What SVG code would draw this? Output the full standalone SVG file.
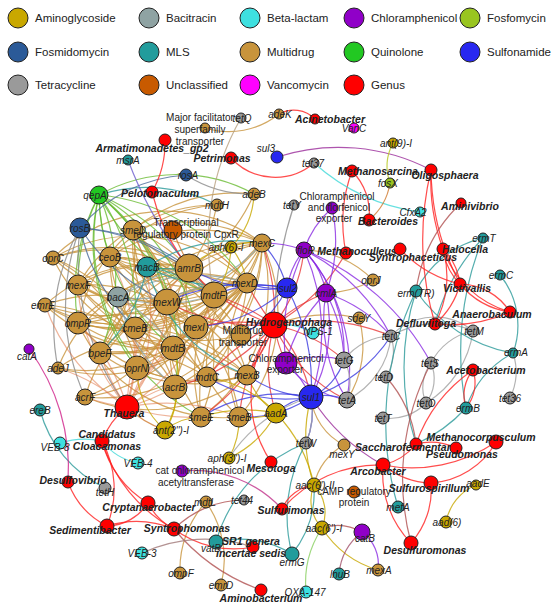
<svg xmlns="http://www.w3.org/2000/svg" width="551" height="608" viewBox="0 0 551 608">
<style>
.ag{fill:#C9A800}.bc{fill:#8FA3A3}.bl{fill:#3EE0E0}.ch{fill:#9000C8}.ff{fill:#99C520}.fm{fill:#2B5A98}.ml{fill:#229C9C}.md{fill:#C8943C}.qn{fill:#22C822}.su{fill:#2828F0}.tc{fill:#9A9A9A}.un{fill:#C85A00}.vc{fill:#FF00FF}.gn{fill:#FF0000}
circle{stroke:#222;stroke-width:1}
text{font-family:"Liberation Sans",Arial,sans-serif;fill:#222}
.l{font-size:10px;font-style:italic;text-anchor:middle}
.g{font-size:10.5px;font-style:italic;font-weight:bold;text-anchor:middle}
.d{font-size:10px;text-anchor:middle}
.lg{font-size:11.5px}
#edges path{fill:none;stroke-width:1.2;opacity:.8}
.emd{stroke:#C8943C}.eq{stroke:#6ABB33}.ebl{stroke:#4A6A9A}.egy{stroke:#8A8A8A}.eth{stroke:#E07040;opacity:.65}.ehy{stroke:#E83838}.ech{stroke:#8A2BE2}.esu{stroke:#3A3AE0}.eag{stroke:#C8A800}.etc{stroke:#A0A0A0}.eml{stroke:#2A9A9A}.ered{stroke:#FF2020}.ebc{stroke:#8FA3A3}.ecy{stroke:#40D8D8}.ebr{stroke:#B05050}.emg{stroke:#D0208A}.eor{stroke:#D07A30}.ett{stroke:#B8A080}.epu{stroke:#9A2A9A}.eyg{stroke:#B8C820}
</style>
<g id="legend">
<circle class="ag" cx="18" cy="18" r="10"/><text class="lg" x="35" y="22">Aminoglycoside</text>
<circle class="bc" cx="149" cy="18" r="10"/><text class="lg" x="166" y="22">Bacitracin</text>
<circle class="bl" cx="250" cy="18" r="10"/><text class="lg" x="267" y="22">Beta-lactam</text>
<circle class="ch" cx="354" cy="18" r="10"/><text class="lg" x="371" y="22">Chloramphenicol</text>
<circle class="ff" cx="470" cy="18" r="10"/><text class="lg" x="487" y="22">Fosfomycin</text>
<circle class="fm" cx="18" cy="52" r="10"/><text class="lg" x="35" y="56">Fosmidomycin</text>
<circle class="ml" cx="149" cy="52" r="10"/><text class="lg" x="166" y="56">MLS</text>
<circle class="md" cx="250" cy="52" r="10"/><text class="lg" x="267" y="56">Multidrug</text>
<circle class="qn" cx="354" cy="52" r="10"/><text class="lg" x="371" y="56">Quinolone</text>
<circle class="su" cx="470" cy="52" r="10"/><text class="lg" x="487" y="56">Sulfonamide</text>
<circle class="tc" cx="18" cy="85" r="10"/><text class="lg" x="35" y="89">Tetracycline</text>
<circle class="un" cx="149" cy="85" r="10"/><text class="lg" x="166" y="89">Unclassified</text>
<circle class="vc" cx="250" cy="85" r="10"/><text class="lg" x="267" y="89">Vancomycin</text>
<circle class="gn" cx="354" cy="85" r="10"/><text class="lg" x="371" y="89">Genus</text>
</g>
<g id="edges">
<g class="emd">
<path d="M133 230A160 160 0 0 1 189 268"/><path d="M133 230A160 160 0 0 0 214 295"/><path d="M133 230A160 160 0 0 1 167 302"/><path d="M133 230A160 160 0 0 0 173 348"/><path d="M133 230A160 160 0 0 1 175 387"/><path d="M133 230A160 160 0 0 0 247 375"/><path d="M133 230A160 160 0 0 1 262 243"/><path d="M133 230A160 160 0 0 0 247 283"/><path d="M133 230A160 160 0 0 0 78 323"/><path d="M133 230A160 160 0 0 1 100 353"/>
<path d="M110 257A160 160 0 0 0 189 268"/><path d="M110 257A160 160 0 0 1 214 295"/><path d="M110 257A160 160 0 0 0 196 327"/><path d="M110 257A160 160 0 0 1 167 302"/><path d="M110 257A160 160 0 0 0 135 328"/><path d="M110 257A160 160 0 0 1 173 348"/><path d="M110 257A160 160 0 0 0 247 283"/><path d="M110 257A160 160 0 0 1 247 375"/><path d="M110 257A160 160 0 0 0 175 387"/>
<path d="M53 258A160 160 0 0 1 189 268"/><path d="M53 258A160 160 0 0 0 167 302"/><path d="M53 258A160 160 0 0 1 135 328"/><path d="M53 258A160 160 0 0 0 173 348"/><path d="M53 258A160 160 0 0 1 137 368"/><path d="M53 258A160 160 0 0 1 214 295"/>
<path d="M78 285A160 160 0 0 1 189 268"/><path d="M78 285A160 160 0 0 0 214 295"/><path d="M78 285A160 160 0 0 1 196 327"/><path d="M78 285A160 160 0 0 0 173 348"/><path d="M78 285A160 160 0 0 1 175 387"/><path d="M78 285A160 160 0 0 0 247 283"/><path d="M78 285A160 160 0 0 1 262 243"/>
<path d="M45 305A160 160 0 0 1 189 268"/><path d="M45 305A160 160 0 0 0 167 302"/><path d="M45 305A160 160 0 0 1 196 327"/><path d="M45 305A160 160 0 0 0 173 348"/><path d="M45 305A160 160 0 0 1 175 387"/><path d="M45 305A160 160 0 0 0 214 295"/>
<path d="M167 302A160 160 0 0 1 247 283"/><path d="M167 302A160 160 0 0 0 262 243"/><path d="M167 302A160 160 0 0 1 247 375"/><path d="M167 302A160 160 0 0 0 201 417"/><path d="M167 302A160 160 0 0 1 239 417"/><path d="M167 302A160 160 0 0 0 207 377"/>
<path d="M189 268A160 160 0 0 1 78 323"/><path d="M189 268A160 160 0 0 0 100 353"/><path d="M189 268A160 160 0 0 1 137 368"/><path d="M189 268A160 160 0 0 0 175 387"/><path d="M189 268A160 160 0 0 1 201 417"/><path d="M189 268A160 160 0 0 0 239 417"/><path d="M189 268A160 160 0 0 1 85 397"/><path d="M189 268A160 160 0 0 0 58 368"/>
<path d="M214 295A160 160 0 0 1 78 323"/><path d="M214 295A160 160 0 0 0 100 353"/><path d="M214 295A160 160 0 0 1 137 368"/><path d="M214 295A160 160 0 0 0 201 417"/><path d="M214 295A160 160 0 0 1 85 397"/>
<path d="M196 327A160 160 0 0 0 78 323"/><path d="M196 327A160 160 0 0 1 100 353"/><path d="M196 327A160 160 0 0 0 262 243"/><path d="M196 327A160 160 0 0 1 58 368"/>
<path d="M78 323A160 160 0 0 0 173 348"/><path d="M78 323A160 160 0 0 1 247 283"/><path d="M78 323A160 160 0 0 0 262 243"/><path d="M78 323A160 160 0 0 1 207 377"/><path d="M78 323A160 160 0 0 0 247 375"/>
<path d="M135 328A160 160 0 0 1 262 243"/><path d="M135 328A160 160 0 0 0 247 283"/><path d="M135 328A160 160 0 0 1 247 375"/>
<path d="M173 348A160 160 0 0 0 262 243"/><path d="M173 348A160 160 0 0 1 247 283"/>
<path d="M100 353A160 160 0 0 0 247 283"/><path d="M100 353A160 160 0 0 1 262 243"/><path d="M100 353A160 160 0 0 0 247 375"/><path d="M100 353A160 160 0 0 1 207 377"/>
<path d="M137 368A160 160 0 0 0 247 283"/><path d="M137 368A160 160 0 0 1 262 243"/><path d="M137 368A160 160 0 0 0 247 375"/>
<path d="M175 387A160 160 0 0 1 247 283"/><path d="M175 387A160 160 0 0 0 262 243"/>
<path d="M207 377A160 160 0 0 1 262 243"/><path d="M207 377A160 160 0 0 0 247 283"/>
<path d="M201 417A160 160 0 0 1 247 283"/><path d="M201 417A160 160 0 0 0 262 243"/>
<path d="M239 417A160 160 0 0 1 247 283"/><path d="M239 417A160 160 0 0 0 262 243"/><path d="M239 417A160 160 0 0 1 78 323"/>
<path d="M58 368A160 160 0 0 0 247 283"/><path d="M85 397A160 160 0 0 1 247 283"/><path d="M85 397A160 160 0 0 0 262 243"/>
<path d="M241 335A160 160 0 0 1 133 230"/><path d="M241 335A160 160 0 0 0 110 257"/><path d="M241 335A160 160 0 0 1 78 285"/>
<path d="M254 194A160 160 0 0 0 133 230"/><path d="M254 194A160 160 0 0 1 189 268"/>
<path d="M217 205A160 160 0 0 0 110 257"/><path d="M217 205A160 160 0 0 1 189 268"/><path d="M217 205A160 160 0 0 0 78 285"/>
<path d="M58 368A160 160 0 0 1 247 375"/><path d="M85 397A160 160 0 0 0 247 375"/><path d="M53 258A160 160 0 0 1 247 283"/><path d="M45 305A160 160 0 0 0 247 283"/><path d="M53 258A160 160 0 0 1 262 243"/>
<path d="M205 128A80 80 0 0 0 279 114"/>
<path d="M359 318A100 100 0 0 1 347 400"/><path d="M274 325A150 150 0 0 1 359 318"/>
<path d="M373 280A100 100 0 0 0 304 250"/><path d="M373 280A100 100 0 0 1 326 293"/>
<path d="M344 445A60 60 0 0 1 311 397"/><path d="M344 445A60 60 0 0 0 314 485"/>
<path d="M206 502A100 100 0 0 1 221 585"/><path d="M206 502A100 100 0 0 0 180 573"/>
</g>
<g class="eq">
<path d="M99 195A200 200 0 0 1 133 230"/><path d="M99 195A200 200 0 0 0 110 257"/><path d="M99 195A200 200 0 0 0 78 285"/><path d="M99 195A200 200 0 0 1 167 302"/><path d="M99 195A200 200 0 0 1 189 268"/><path d="M99 195A200 200 0 0 0 78 323"/><path d="M99 195A200 200 0 0 1 135 328"/><path d="M99 195A200 200 0 0 0 173 348"/><path d="M99 195A200 200 0 0 1 100 353"/><path d="M99 195A200 200 0 0 0 137 368"/><path d="M99 195A200 200 0 0 1 175 387"/><path d="M99 195A200 200 0 0 1 247 283"/><path d="M99 195A200 200 0 0 0 214 295"/><path d="M99 195A200 200 0 0 1 196 327"/><path d="M99 195A200 200 0 0 0 201 417"/><path d="M99 195A160 160 0 0 1 254 194"/>
</g>
<g class="eml"><path d="M99 195A150 150 0 0 1 217 205"/></g>
<g class="ebl">
<path d="M80 228A150 150 0 0 1 186 175"/><path d="M80 228A200 200 0 0 1 189 268"/><path d="M80 228A200 200 0 0 0 167 302"/><path d="M80 228A200 200 0 0 1 214 295"/><path d="M80 228A200 200 0 0 0 135 328"/>
</g>
<g class="egy">
<path d="M80 228A200 200 0 0 0 58 368"/><path d="M80 228A220 220 0 0 0 85 397"/><path d="M80 228A250 250 0 0 0 127 407"/><path d="M186 175A120 120 0 0 0 254 194"/><path d="M294 205A400 400 0 0 0 274 325"/>
</g>
<g style="stroke:#6A5ACD"><path d="M128 160A400 400 0 0 0 189 268"/></g>
<g class="ered">
<path d="M165 140A100 100 0 0 1 152 192"/><path d="M152 192A200 200 0 0 0 189 268"/>
</g>
<g class="ebc">
<path d="M118 297A160 160 0 0 1 189 268"/><path d="M118 297A160 160 0 0 0 214 295"/><path d="M118 297A160 160 0 0 1 173 348"/><path d="M118 297A160 160 0 0 0 175 387"/><path d="M118 297A160 160 0 0 1 247 283"/><path d="M118 297A160 160 0 0 0 262 243"/>
</g>
<g class="eml">
<path d="M147 267A160 160 0 0 0 189 268"/><path d="M147 267A160 160 0 0 1 214 295"/><path d="M147 267A160 160 0 0 0 247 283"/><path d="M147 267A160 160 0 0 1 262 243"/><path d="M147 267A160 160 0 0 0 247 375"/><path d="M147 267A160 160 0 0 1 100 353"/>
</g>
<g class="eor"><path d="M173 230A160 160 0 0 1 247 283"/><path d="M173 230A160 160 0 0 0 214 295"/><path d="M127 407A100 100 0 0 0 165 430"/></g>
<g class="eth">
<path d="M127 407A200 200 0 0 1 137 368"/><path d="M127 407A200 200 0 0 0 175 387"/><path d="M127 407A200 200 0 0 1 100 353"/><path d="M127 407A200 200 0 0 0 135 328"/><path d="M127 407A200 200 0 0 1 173 348"/><path d="M127 407A200 200 0 0 0 167 302"/><path d="M127 407A200 200 0 0 1 196 327"/><path d="M127 407A200 200 0 0 0 214 295"/><path d="M127 407A200 200 0 0 1 189 268"/><path d="M127 407A200 200 0 0 0 78 323"/><path d="M127 407A200 200 0 0 1 78 285"/><path d="M127 407A200 200 0 0 0 110 257"/><path d="M127 407A200 200 0 0 1 45 305"/><path d="M127 407A200 200 0 0 0 133 230"/><path d="M127 407A200 200 0 0 1 85 397"/><path d="M127 407A200 200 0 0 0 58 368"/><path d="M127 407A200 200 0 0 1 207 377"/><path d="M127 407A200 200 0 0 0 201 417"/><path d="M127 407A200 200 0 0 1 239 417"/>
</g>
<g class="ehy">
<path d="M274 325A200 200 0 0 1 189 268"/><path d="M274 325A200 200 0 0 0 214 295"/><path d="M274 325A200 200 0 0 1 247 283"/><path d="M274 325A200 200 0 0 0 262 243"/><path d="M274 325A200 200 0 0 1 167 302"/><path d="M274 325A200 200 0 0 0 196 327"/><path d="M274 325A200 200 0 0 1 201 417"/><path d="M274 325A200 200 0 0 0 239 417"/><path d="M274 325A200 200 0 0 1 247 375"/><path d="M274 325A200 200 0 0 0 207 377"/><path d="M274 325A200 200 0 0 1 175 387"/><path d="M274 325A150 150 0 0 0 304 250"/><path d="M274 325A150 150 0 0 1 326 293"/><path d="M274 325A150 150 0 0 0 286 363"/><path d="M274 325A150 150 0 0 1 344 360"/><path d="M274 325A150 150 0 0 0 347 400"/><path d="M274 325A150 150 0 0 1 311 397"/><path d="M274 325A150 150 0 0 0 276 413"/><path d="M274 325A200 200 0 0 0 346 253"/><path d="M274 325A200 200 0 0 1 391 336"/>
</g>
<g class="ecy"><path d="M274 325A60 60 0 0 1 313 333"/></g>
<g class="ech">
<path d="M304 250A200 200 0 0 1 311 397"/><path d="M304 250A180 180 0 0 1 347 400"/><path d="M304 250A150 150 0 0 1 344 360"/><path d="M304 250A80 80 0 0 1 326 293"/><path d="M304 250A200 200 0 0 0 286 363"/><path d="M304 250A80 80 0 0 0 287 288"/><path d="M304 250A200 200 0 0 1 391 336"/><path d="M304 250A120 120 0 0 0 262 243"/><path d="M304 250A250 250 0 0 1 431 363"/>
<path d="M326 293A150 150 0 0 1 311 397"/><path d="M326 293A150 150 0 0 0 347 400"/><path d="M326 293A150 150 0 0 1 344 360"/><path d="M326 293A150 150 0 0 0 286 363"/><path d="M326 293A150 150 0 0 1 391 336"/>
<path d="M332 208A100 100 0 0 0 304 250"/><path d="M332 208A150 150 0 0 1 326 293"/>
<path d="M286 363A100 100 0 0 1 311 397"/><path d="M286 363A100 100 0 0 0 347 400"/><path d="M286 363A100 100 0 0 1 344 360"/>
<path d="M362 532A40 40 0 0 1 378 570"/>
</g>
<g class="esu">
<path d="M311 397A60 60 0 0 1 347 400"/><path d="M311 397A60 60 0 0 0 344 360"/><path d="M311 397A60 60 0 0 0 276 413"/><path d="M311 397A120 120 0 0 1 239 417"/><path d="M311 397A150 150 0 0 0 201 417"/><path d="M311 397A120 120 0 0 1 247 375"/><path d="M311 397A80 80 0 0 1 306 443"/><path d="M311 397A200 200 0 0 0 287 288"/><path d="M311 397A150 150 0 0 1 207 377"/><path d="M311 397A150 150 0 0 0 391 336"/>
<path d="M287 288A80 80 0 0 1 247 283"/><path d="M287 288A120 120 0 0 0 214 295"/><path d="M287 288A150 150 0 0 1 189 268"/><path d="M287 288A100 100 0 0 0 262 243"/><path d="M287 288A100 100 0 0 1 241 335"/><path d="M287 288A200 200 0 0 0 167 302"/><path d="M287 288A150 150 0 0 1 196 327"/>
</g>
<g class="epu"><path d="M311 397A200 200 0 0 0 383 465"/><path d="M277 157A200 200 0 0 1 431 170"/></g>
<g class="eag">
<path d="M276 413A80 80 0 0 1 239 417"/><path d="M276 413A150 150 0 0 0 201 417"/><path d="M276 413A80 80 0 0 1 247 375"/><path d="M276 413A120 120 0 0 0 207 377"/><path d="M276 413A100 100 0 0 1 229 458"/>
<path d="M165 430A60 60 0 0 0 175 387"/><path d="M165 430A80 80 0 0 1 137 368"/><path d="M165 430A60 60 0 0 1 201 417"/><path d="M165 430A100 100 0 0 0 173 348"/>
<path d="M231 247A60 60 0 0 1 262 243"/><path d="M231 247A80 80 0 0 0 189 268"/><path d="M231 247A80 80 0 0 0 254 194"/><path d="M231 247A80 80 0 0 1 214 295"/><path d="M231 247A80 80 0 0 1 247 283"/>
<path d="M229 458A80 80 0 0 0 239 417"/>
<path d="M314 485A150 150 0 0 0 276 413"/><path d="M314 485A150 150 0 0 1 311 397"/><path d="M314 485A40 40 0 0 0 322 528"/><path d="M314 485A40 40 0 0 1 322 528"/>
<path d="M322 528A100 100 0 0 0 378 570"/><path d="M476 485A50 50 0 0 0 446 522"/>
</g>
<g class="eyg"><path d="M393 143A50 50 0 0 0 390 183"/><path d="M306 592A100 100 0 0 1 322 528" style="stroke:#88D060"/></g>
<g class="etc">
<path d="M229 458A150 150 0 0 1 311 397"/>
<path d="M344 360A50 50 0 0 1 347 400"/><path d="M391 336A60 60 0 0 0 344 360"/><path d="M391 336A80 80 0 0 1 347 400"/>
<path d="M473 331A60 60 0 0 0 391 336"/><path d="M473 331A90 90 0 0 0 391 336"/><path d="M473 331A60 60 0 0 0 431 363"/><path d="M473 331A100 100 0 0 1 426 403"/>
<path d="M431 363A40 40 0 0 1 426 403"/><path d="M431 363A40 40 0 0 0 426 403"/><path d="M383 418A50 50 0 0 0 426 403"/><path d="M510 398A60 60 0 0 0 513 353"/><path d="M386 377A50 50 0 0 0 391 336"/><path d="M306 443A80 80 0 0 0 311 397"/>
</g>
<g class="ett"><path d="M241 118A250 250 0 0 0 214 295"/></g>
<g class="eml">
<path d="M483 238A100 100 0 0 0 416 291"/><path d="M483 238A200 200 0 0 0 435 324"/><path d="M483 238A300 300 0 0 0 466 408"/><path d="M500 275A80 80 0 0 1 513 353"/><path d="M416 291A150 150 0 0 0 513 353"/><path d="M416 291A300 300 0 0 0 398 507"/><path d="M416 291A250 250 0 0 0 416 444"/><path d="M466 408A150 150 0 0 1 416 444"/><path d="M466 408A100 100 0 0 1 513 353"/>
<path d="M216 542A100 100 0 0 1 292 554"/><path d="M216 542A150 150 0 0 1 306 443"/><path d="M292 554A100 100 0 0 0 314 485"/><path d="M306 443A150 150 0 0 0 292 554"/><path d="M40 410A120 120 0 0 0 105 488"/><path d="M339 574A60 60 0 0 1 362 532" style="stroke:#A0506A"/>
</g>
<g class="ered">
<path d="M231 158A60 60 0 0 0 314 163"/><path d="M279 114A30 30 0 0 1 315 119"/>
<path d="M352 171A60 60 0 0 1 369 220"/><path d="M352 171A150 150 0 0 0 346 253"/>
<path d="M431 170A200 200 0 0 0 443 249"/><path d="M431 170A250 250 0 0 0 460 284"/><path d="M431 170A300 300 0 0 0 435 324"/>
<path d="M443 249A60 60 0 0 0 460 284"/><path d="M443 249A60 60 0 0 1 460 284"/><path d="M443 249A100 100 0 0 0 510 312"/><path d="M443 249A100 100 0 0 1 435 324"/>
<path d="M460 284A80 80 0 0 0 510 312"/><path d="M460 284A60 60 0 0 1 510 312"/><path d="M460 284A80 80 0 0 1 435 324"/><path d="M435 324A150 150 0 0 0 510 312"/><path d="M400 249A120 120 0 0 0 460 284"/>
<path d="M473 370A40 40 0 0 0 466 408"/><path d="M473 370A40 40 0 0 1 466 408"/><path d="M473 370A150 150 0 0 0 416 444"/><path d="M416 444A60 60 0 0 1 383 465"/>
<path d="M496 442A150 150 0 0 1 383 465"/><path d="M496 442A80 80 0 0 1 431 483"/><path d="M456 448A60 60 0 0 0 416 444"/>
<path d="M383 465A100 100 0 0 0 411 543"/><path d="M431 483A80 80 0 0 1 411 543"/><path d="M383 465A80 80 0 0 0 431 483"/><path d="M282 509A130 130 0 0 1 383 465"/><path d="M282 509A40 40 0 0 1 314 485"/>
<path d="M102 441A100 100 0 0 0 148 503"/><path d="M102 441A100 100 0 0 1 107 526"/><path d="M102 441A150 150 0 0 0 174 529"/><path d="M148 503A50 50 0 0 1 107 526"/><path d="M148 503A60 60 0 0 0 174 529"/><path d="M107 526A100 100 0 0 1 174 529"/><path d="M68 482A80 80 0 0 0 107 526"/><path d="M174 529A100 100 0 0 0 253 547"/><path d="M127 407A80 80 0 0 0 102 441"/>
<path d="M271 462A120 120 0 0 1 274 325"/>
</g>
<g class="ebr">
<path d="M461 203A150 150 0 0 0 416 291"/><path d="M411 543A250 250 0 0 1 431 363"/><path d="M386 377A120 120 0 0 1 416 444"/><path d="M174 529A200 200 0 0 0 261 590"/><path d="M244 500A100 100 0 0 0 174 529"/><path d="M142 553A150 150 0 0 1 253 547" style="stroke:#A07878"/><path d="M362 532A50 50 0 0 0 322 528"/>
</g>
<g class="ecy"><path d="M60 443A80 80 0 0 1 102 441"/><path d="M102 441A60 60 0 0 0 138 463"/><path d="M314 163A200 200 0 0 0 420 212"/></g>
<g class="emg"><path d="M29 349A200 200 0 0 1 68 482"/><path d="M182 471A120 120 0 0 1 282 509" style="stroke:#C0308A"/></g>
<g class="eor"><path d="M390 183A60 60 0 0 1 369 220"/></g>
</g>
<g id="nodes">
<g id="n-mft"><circle class="md" cx="205" cy="128" r="5"/><text class="d" x="200" y="121">Major facilitator</text><text class="d" x="200" y="133">superfamily</text><text class="d" x="200" y="145">transporter</text></g>
<g id="n-tetQ"><circle class="tc" cx="241" cy="118" r="5"/><text class="l" x="242" y="122">tetQ</text></g>
<g id="n-adeK"><circle class="md" cx="279" cy="114" r="5"/><text class="l" x="280" y="118">adeK</text></g>
<g id="n-Acinetobacter"><circle class="gn" cx="315" cy="119" r="5"/><text class="g" x="330" y="123">Acinetobacter</text></g>
<g id="n-VanC"><circle class="vc" cx="354" cy="128" r="5"/><text class="l" x="354" y="132">VanC</text></g>
<g id="n-sul3"><circle class="su" cx="277" cy="157" r="6"/><text class="l" x="266" y="152">sul3</text></g>
<g id="n-Petrimonas"><circle class="gn" cx="231" cy="158" r="6"/><text class="g" x="222" y="162">Petrimonas</text></g>
<g id="n-tet37"><circle class="tc" cx="314" cy="163" r="5"/><text class="l" x="313" y="167">tet37</text></g>
<g id="n-Methanosarcina"><circle class="gn" cx="352" cy="171" r="6"/><text class="g" x="378" y="175">Methanosarcina</text></g>
<g id="n-ant9"><circle class="ag" cx="393" cy="143" r="5"/><text class="l" x="396" y="147">ant(9)-I</text></g>
<g id="n-Oligosphaera"><circle class="gn" cx="431" cy="170" r="6"/><text class="g" x="445" y="179">Oligosphaera</text></g>
<g id="n-fosX"><circle class="ff" cx="390" cy="183" r="5"/><text class="l" x="388" y="187">fosX</text></g>
<g id="n-CfxA2"><circle class="bl" cx="420" cy="212" r="5"/><text class="l" x="413" y="216">CfxA2</text></g>
<g id="n-Aminivibrio"><circle class="gn" cx="461" cy="203" r="5"/><text class="g" x="470" y="210">Aminivibrio</text></g>
<g id="n-Bacteroides"><circle class="gn" cx="369" cy="220" r="6"/><text class="g" x="388" y="225">Bacteroides</text></g>
<g id="n-cfexp"><circle class="ch" cx="332" cy="208" r="6"/><text class="d" x="337" y="200">Chloramphenicol</text><text class="d" x="339" y="211">and florfenicol</text><text class="d" x="334" y="222">exporter</text></g>
<g id="n-adeB"><circle class="md" cx="254" cy="194" r="6"/><text class="l" x="254" y="198">adeB</text></g>
<g id="n-mdtH"><circle class="md" cx="217" cy="205" r="6"/><text class="l" x="217" y="209">mdtH</text></g>
<g id="n-tetY"><circle class="tc" cx="294" cy="205" r="5"/><text class="l" x="292" y="209">tetY</text></g>
<g id="n-Armatimonadetes"><circle class="gn" cx="165" cy="140" r="6"/><text class="g" x="152" y="152">Armatimonadetes_gp2</text></g>
<g id="n-msrA"><circle class="ml" cx="128" cy="160" r="5"/><text class="l" x="128" y="164">msrA</text></g>
<g id="n-rosA"><circle class="fm" cx="186" cy="175" r="6"/><text class="l" x="188" y="179">rosA</text></g>
<g id="n-Pelotomaculum"><circle class="gn" cx="152" cy="192" r="6"/><text class="g" x="160" y="197">Pelotomaculum</text></g>
<g id="n-qepA"><circle class="qn" cx="99" cy="195" r="9"/><text class="l" x="95" y="199">qepA</text></g>
<g id="n-rosB"><circle class="fm" cx="80" cy="228" r="10"/><text class="l" x="80" y="232">rosB</text></g>
<g id="n-smeD"><circle class="md" cx="133" cy="230" r="10"/><text class="l" x="133" y="234">smeD</text></g>
<g id="n-cpxR"><circle class="un" cx="173" cy="230" r="9"/><text class="d" x="186" y="226">Transcriptional</text><text class="d" x="186" y="238">regulatory protein CpxR</text></g>
<g id="n-oprC"><circle class="md" cx="53" cy="258" r="7"/><text class="l" x="53" y="262">oprC</text></g>
<g id="n-ceoB"><circle class="md" cx="110" cy="257" r="10"/><text class="l" x="110" y="261">ceoB</text></g>
<g id="n-macB"><circle class="ml" cx="147" cy="267" r="10"/><text class="l" x="147" y="271">macB</text></g>
<g id="n-mexF"><circle class="md" cx="78" cy="285" r="10"/><text class="l" x="78" y="289">mexF</text></g>
<g id="n-bacA"><circle class="bc" cx="118" cy="297" r="10"/><text class="l" x="118" y="301">bacA</text></g>
<g id="n-emrE"><circle class="md" cx="45" cy="305" r="7"/><text class="l" x="43" y="309">emrE</text></g>
<g id="n-mexW"><circle class="md" cx="167" cy="302" r="13"/><text class="l" x="167" y="306">mexW</text></g>
<g id="n-amrB"><circle class="md" cx="189" cy="268" r="14"/><text class="l" x="189" y="272">amrB</text></g>
<g id="n-mdtF"><circle class="md" cx="214" cy="295" r="13"/><text class="l" x="214" y="299">mdtF</text></g>
<g id="n-mexI"><circle class="md" cx="196" cy="327" r="12"/><text class="l" x="194" y="331">mexI</text></g>
<g id="n-ompR"><circle class="md" cx="78" cy="323" r="11"/><text class="l" x="78" y="327">ompR</text></g>
<g id="n-cmeB"><circle class="md" cx="135" cy="328" r="11"/><text class="l" x="135" y="332">cmeB</text></g>
<g id="n-mdtB"><circle class="md" cx="173" cy="348" r="12"/><text class="l" x="173" y="352">mdtB</text></g>
<g id="n-bpeF"><circle class="md" cx="100" cy="353" r="11"/><text class="l" x="100" y="357">bpeF</text></g>
<g id="n-oprN"><circle class="md" cx="137" cy="368" r="12"/><text class="l" x="137" y="372">oprN</text></g>
<g id="n-acrB"><circle class="md" cx="175" cy="387" r="12"/><text class="l" x="175" y="391">acrB</text></g>
<g id="n-mdtC"><circle class="md" cx="207" cy="377" r="10"/><text class="l" x="207" y="381">mdtC</text></g>
<g id="n-mexB"><circle class="md" cx="247" cy="375" r="10"/><text class="l" x="247" y="379">mexB</text></g>
<g id="n-mexD"><circle class="md" cx="247" cy="283" r="10"/><text class="l" x="245" y="287">mexD</text></g>
<g id="n-mexC"><circle class="md" cx="262" cy="243" r="9"/><text class="l" x="262" y="247">mexC</text></g>
<g id="n-aph6"><circle class="ag" cx="231" cy="247" r="6"/><text class="l" x="226" y="251">aph(6)-I</text></g>
<g id="n-smeE"><circle class="md" cx="201" cy="417" r="10"/><text class="l" x="201" y="421">smeE</text></g>
<g id="n-smeB"><circle class="md" cx="239" cy="417" r="10"/><text class="l" x="239" y="421">smeB</text></g>
<g id="n-adeJ"><circle class="md" cx="58" cy="368" r="6"/><text class="l" x="58" y="372">adeJ</text></g>
<g id="n-acrF"><circle class="md" cx="85" cy="397" r="8"/><text class="l" x="85" y="401">acrF</text></g>
<g id="n-catA"><circle class="ch" cx="29" cy="349" r="5"/><text class="l" x="27" y="360">catA</text></g>
<g id="n-mdtr"><circle class="md" cx="241" cy="335" r="10"/><text class="d" x="243" y="334">Multidrug</text><text class="d" x="243" y="346">transporter</text></g>
<g id="n-sul2"><circle class="su" cx="287" cy="288" r="10"/><text class="l" x="288" y="292">sul2</text></g>
<g id="n-floR"><circle class="ch" cx="304" cy="250" r="8"/><text class="l" x="306" y="254">floR</text></g>
<g id="n-Methanoculleus"><circle class="gn" cx="346" cy="253" r="6"/><text class="g" x="357" y="255">Methanoculleus</text></g>
<g id="n-cmlA"><circle class="ch" cx="326" cy="293" r="9"/><text class="l" x="326" y="297">cmlA</text></g>
<g id="n-Hydrogenophaga"><circle class="gn" cx="274" cy="325" r="13"/><text class="g" x="289" y="326">Hydrogenophaga</text></g>
<g id="n-NPS1"><circle class="bl" cx="313" cy="333" r="6"/><text class="l" x="318" y="335">NPS-1</text></g>
<g id="n-sdeY"><circle class="md" cx="359" cy="318" r="6"/><text class="l" x="359" y="322">sdeY</text></g>
<g id="n-oprJ"><circle class="md" cx="373" cy="280" r="6"/><text class="l" x="371" y="284">oprJ</text></g>
<g id="n-Syntrophaceticus"><circle class="gn" cx="400" cy="249" r="6"/><text class="g" x="413" y="261">Syntrophaceticus</text></g>
<g id="n-Halocella"><circle class="gn" cx="443" cy="249" r="6"/><text class="g" x="465" y="253">Halocella</text></g>
<g id="n-ermT"><circle class="ml" cx="483" cy="238" r="5"/><text class="l" x="484" y="242">ermT</text></g>
<g id="n-ermC"><circle class="ml" cx="500" cy="275" r="5"/><text class="l" x="501" y="279">ermC</text></g>
<g id="n-ermTR"><circle class="ml" cx="416" cy="291" r="6"/><text class="l" x="416" y="297">erm(TR)</text></g>
<g id="n-Victivallis"><circle class="gn" cx="460" cy="284" r="6"/><text class="g" x="467" y="292">Victivallis</text></g>
<g id="n-Anaerobaculum"><circle class="gn" cx="510" cy="312" r="6"/><text class="g" x="492" y="318">Anaerobaculum</text></g>
<g id="n-Defluviitoga"><circle class="gn" cx="435" cy="324" r="6"/><text class="g" x="426" y="327">Defluviitoga</text></g>
<g id="n-tetM"><circle class="tc" cx="473" cy="331" r="6"/><text class="l" x="474" y="335">tetM</text></g>
<g id="n-tetC"><circle class="tc" cx="391" cy="336" r="6"/><text class="l" x="391" y="340">tetC</text></g>
<g id="n-ermA"><circle class="ml" cx="513" cy="353" r="5"/><text class="l" x="516" y="356">ermA</text></g>
<g id="n-chlexp"><circle class="ch" cx="286" cy="363" r="11"/><text class="d" x="286" y="362">Chloramphenicol</text><text class="d" x="285" y="373">exporter</text></g>
<g id="n-tetG"><circle class="tc" cx="344" cy="360" r="8"/><text class="l" x="344" y="364">tetG</text></g>
<g id="n-sul1"><circle class="su" cx="311" cy="397" r="12"/><text class="l" x="311" y="401">sul1</text></g>
<g id="n-tetA"><circle class="tc" cx="347" cy="400" r="8"/><text class="l" x="347" y="404">tetA</text></g>
<g id="n-aadA"><circle class="ag" cx="276" cy="413" r="10"/><text class="l" x="276" y="417">aadA</text></g>
<g id="n-tetW"><circle class="tc" cx="306" cy="443" r="6"/><text class="l" x="306" y="447">tetW</text></g>
<g id="n-aph3"><circle class="ag" cx="229" cy="458" r="6"/><text class="l" x="227" y="462">aph(3'')-I</text></g>
<g id="n-mexY"><circle class="md" cx="344" cy="445" r="6"/><text class="l" x="342" y="458">mexY</text></g>
<g id="n-Mesotoga"><circle class="gn" cx="271" cy="462" r="6"/><text class="g" x="271" y="472">Mesotoga</text></g>
<g id="n-Saccharofermentans"><circle class="gn" cx="416" cy="444" r="6"/><text class="g" x="407" y="451">Saccharofermentans</text></g>
<g id="n-tetS"><circle class="tc" cx="431" cy="363" r="6"/><text class="l" x="430" y="367">tetS</text></g>
<g id="n-Acetobacterium"><circle class="gn" cx="473" cy="370" r="6"/><text class="g" x="486" y="374">Acetobacterium</text></g>
<g id="n-tetD"><circle class="tc" cx="386" cy="377" r="6"/><text class="l" x="384" y="381">tetD</text></g>
<g id="n-tetO"><circle class="tc" cx="426" cy="403" r="6"/><text class="l" x="426" y="407">tetO</text></g>
<g id="n-ermB"><circle class="ml" cx="466" cy="408" r="6"/><text class="l" x="468" y="412">ermB</text></g>
<g id="n-tet36"><circle class="tc" cx="510" cy="398" r="6"/><text class="l" x="510" y="402">tet36</text></g>
<g id="n-tetT"><circle class="tc" cx="383" cy="418" r="6"/><text class="l" x="383" y="422">tetT</text></g>
<g id="n-Methanocorpusculum"><circle class="gn" cx="496" cy="442" r="7"/><text class="g" x="481" y="441">Methanocorpusculum</text></g>
<g id="n-Pseudomonas"><circle class="gn" cx="456" cy="448" r="6"/><text class="g" x="462" y="458">Pseudomonas</text></g>
<g id="n-Arcobacter"><circle class="gn" cx="383" cy="465" r="7"/><text class="g" x="378" y="475">Arcobacter</text></g>
<g id="n-Sulfurospirillum"><circle class="gn" cx="431" cy="483" r="7"/><text class="g" x="429" y="492">Sulfurospirillum</text></g>
<g id="n-aadE"><circle class="ag" cx="476" cy="485" r="5"/><text class="l" x="478" y="487">aadE</text></g>
<g id="n-aad6"><circle class="ag" cx="446" cy="522" r="6"/><text class="l" x="447" y="526">aad(6)</text></g>
<g id="n-mefA"><circle class="ml" cx="398" cy="507" r="6"/><text class="l" x="398" y="511">mefA</text></g>
<g id="n-Desulfuromonas"><circle class="gn" cx="411" cy="543" r="7"/><text class="g" x="425" y="554">Desulfuromonas</text></g>
<g id="n-mexA"><circle class="md" cx="378" cy="570" r="6"/><text class="l" x="379" y="574">mexA</text></g>
<g id="n-catB"><circle class="ch" cx="362" cy="532" r="8"/><text class="l" x="365" y="542">catB</text></g>
<g id="n-lnuB"><circle class="ml" cx="339" cy="574" r="6"/><text class="l" x="340" y="578">lnuB</text></g>
<g id="n-aac6I"><circle class="ag" cx="322" cy="528" r="7"/><text class="l" x="324" y="532">aac(6')-I</text></g>
<g id="n-aac6II"><circle class="ag" cx="314" cy="485" r="7"/><text class="l" x="315" y="489">aac(6')-II</text></g>
<g id="n-camp"><circle class="un" cx="354" cy="492" r="6"/><text class="d" x="354" y="495">cAMP regulatory</text><text class="d" x="354" y="506">protein</text></g>
<g id="n-Sulfurimonas"><circle class="gn" cx="282" cy="509" r="6"/><text class="g" x="291" y="514">Sulfurimonas</text></g>
<g id="n-tet44"><circle class="tc" cx="244" cy="500" r="5"/><text class="l" x="242" y="504">tet44</text></g>
<g id="n-mdtL"><circle class="md" cx="206" cy="502" r="6"/><text class="l" x="205" y="506">mdtL</text></g>
<g id="n-vatB"><circle class="ml" cx="216" cy="542" r="7"/><text class="l" x="211" y="552">vatB</text></g>
<g id="n-SR1"><circle class="gn" cx="253" cy="547" r="6"/><text class="g" x="251" y="545">SR1 genera</text><text class="g" x="251" y="557">incertae sedis</text></g>
<g id="n-ermG"><circle class="ml" cx="292" cy="554" r="7"/><text class="l" x="292" y="566">ermG</text></g>
<g id="n-OXA147"><circle class="bl" cx="306" cy="592" r="6"/><text class="l" x="305" y="596">OXA-147</text></g>
<g id="n-Aminobacterium"><circle class="gn" cx="261" cy="590" r="6"/><text class="g" x="261" y="602">Aminobacterium</text></g>
<g id="n-emrD"><circle class="md" cx="221" cy="585" r="6"/><text class="l" x="221" y="589">emrD</text></g>
<g id="n-ompF"><circle class="md" cx="180" cy="573" r="6"/><text class="l" x="181" y="577">ompF</text></g>
<g id="n-VEB3"><circle class="bl" cx="142" cy="553" r="6"/><text class="l" x="142" y="557">VEB-3</text></g>
<g id="n-Syntrophomonas"><circle class="gn" cx="174" cy="529" r="7"/><text class="g" x="187" y="532">Syntrophomonas</text></g>
<g id="n-Sedimentibacter"><circle class="gn" cx="107" cy="526" r="7"/><text class="g" x="90" y="534">Sedimentibacter</text></g>
<g id="n-Cryptanaerobacter"><circle class="gn" cx="148" cy="503" r="7"/><text class="g" x="149" y="511">Cryptanaerobacter</text></g>
<g id="n-tetH"><circle class="tc" cx="105" cy="488" r="6"/><text class="l" x="105" y="496">tetH</text></g>
<g id="n-Desulfovibrio"><circle class="gn" cx="68" cy="482" r="6"/><text class="g" x="73" y="484">Desulfovibrio</text></g>
<g id="n-VEB4"><circle class="bl" cx="138" cy="463" r="6"/><text class="l" x="138" y="467">VEB-4</text></g>
<g id="n-catacet"><circle class="ch" cx="182" cy="471" r="6"/><text class="d" x="200" y="474">cat chloramphenicol</text><text class="d" x="196" y="486">acetyltransferase</text></g>
<g id="n-VEB8"><circle class="bl" cx="60" cy="443" r="6"/><text class="l" x="55" y="451">VEB-8</text></g>
<g id="n-Candidatus"><circle class="gn" cx="102" cy="441" r="7"/><text class="g" x="107" y="438">Candidatus</text><text class="g" x="107" y="450">Cloacamonas</text></g>
<g id="n-ereB"><circle class="ml" cx="40" cy="410" r="6"/><text class="l" x="40" y="414">ereB</text></g>
<g id="n-Thauera"><circle class="gn" cx="127" cy="407" r="12"/><text class="g" x="124" y="417">Thauera</text></g>
<g id="n-ant2"><circle class="ag" cx="165" cy="430" r="9"/><text class="l" x="171" y="434">ant(2'')-I</text></g>
</g>
</svg>
